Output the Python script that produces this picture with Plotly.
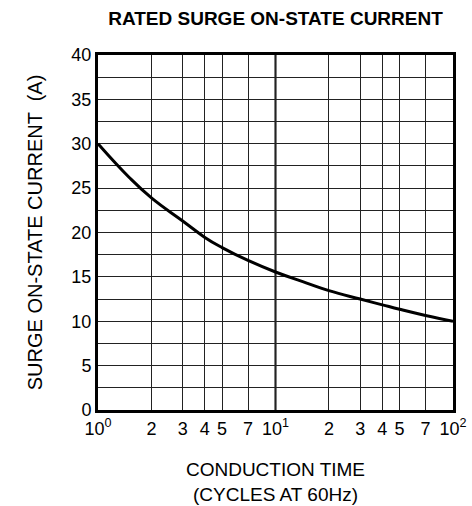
import plotly.graph_objects as go

# Data
cycles = [1, 1.5, 2, 3, 4, 5, 7, 10, 15, 20, 30, 40, 50, 70, 100]
current = [30, 26.2, 23.9, 21.3, 19.45, 18.3, 16.85, 15.55, 14.3, 13.45, 12.5, 11.85, 11.35, 10.65, 10]

x_tickvals = [1, 2, 3, 4, 5, 7, 10, 20, 30, 40, 50, 70, 100]
x_ticktext = ["10<sup>0</sup>", "2", "3", "4", "5", "7", "10<sup>1</sup>",
              "2", "3", "4", "5", "7", "10<sup>2</sup>"]
y_tickvals = [0, 5, 10, 15, 20, 25, 30, 35, 40]

font = "Liberation Sans, Arial, sans-serif"

fig = go.Figure()
fig.add_trace(go.Scatter(x=cycles, y=current, mode="lines",
                         line=dict(color="black", width=3, shape="spline", smoothing=1.3),
                         showlegend=False, hoverinfo="skip"))

# thicker decade line at 10^1
fig.add_shape(type="line", xref="x", yref="paper", x0=10, x1=10, y0=0, y1=1,
              line=dict(color="black", width=2), layer="below")

fig.update_layout(
    width=472, height=506,
    margin=dict(l=98, r=19, t=55, b=96),
    paper_bgcolor="white", plot_bgcolor="white",
    font=dict(family=font, color="black", size=18),
    title=dict(text="<b>RATED SURGE ON-STATE CURRENT</b>", xref="paper", x=0.5,
               xanchor="center", yref="container", y=1 - 18 / 506, yanchor="middle",
               font=dict(size=19, family=font)),
)
fig.update_xaxes(type="log", range=[0, 2], tickmode="array", tickvals=x_tickvals,
                 ticktext=x_ticktext, showgrid=True, gridcolor="#222", gridwidth=1,
                 showline=True, linecolor="black", linewidth=3, mirror=True,
                 ticks="", tickfont=dict(size=18), tickangle=0, zeroline=False,
                 automargin=False,
                 title=dict(text="CONDUCTION TIME<br>(CYCLES AT 60Hz)", font=dict(size=19),
                            standoff=26))
fig.update_yaxes(range=[0, 40], tickmode="array", tickvals=y_tickvals,
                 showgrid=True, gridcolor="#222", gridwidth=1,
                 minor=dict(tickmode="linear", tick0=0, dtick=2.5, showgrid=True,
                            gridcolor="#222", gridwidth=1),
                 showline=True, linecolor="black", linewidth=3, mirror=True,
                 ticks="", tickfont=dict(size=18), zeroline=False, automargin=False,
                 title=dict(text="SURGE ON-STATE CURRENT  (A)", font=dict(size=20),
                            standoff=24))

fig.write_html("out.html", config={"displayModeBar": False},
               post_script="document.body.style.margin='0';document.body.style.overflow='hidden';")
